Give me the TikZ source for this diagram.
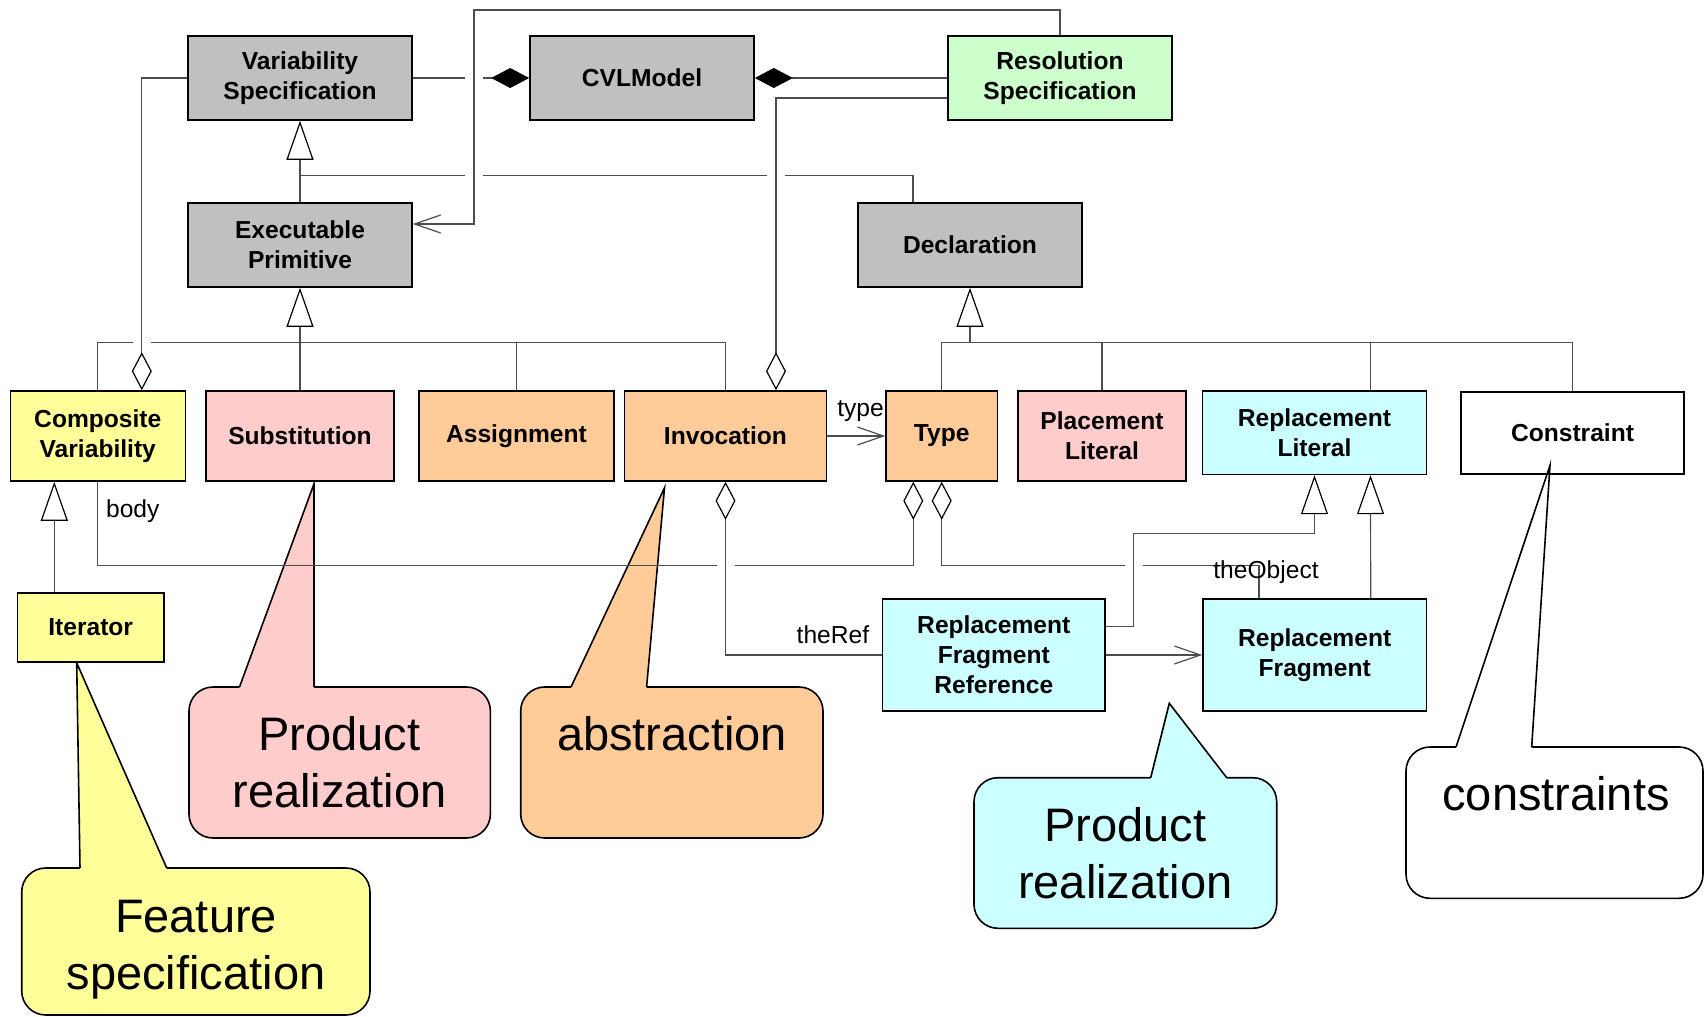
\documentclass[tikz,border=0pt]{standalone}
\usepackage{fontspec}
\setmainfont{Liberation Sans}
\usetikzlibrary{arrows.meta, positioning, calc}

\definecolor{cvlgray}{HTML}{C0C0C0}
\definecolor{cvlyellow}{HTML}{FFFF99}
\definecolor{cvlpink}{HTML}{FFCCCC}
\definecolor{cvlorange}{HTML}{FFCC99}
\definecolor{cvlcyan}{HTML}{CCFFFF}
\definecolor{cvlgreen}{HTML}{CCFFCC}
\definecolor{wire}{HTML}{4D4D4D}

\pgfdeclarelayer{back}
\pgfdeclarelayer{mid}
\pgfsetlayers{back,mid,main}

\begin{document}
\begin{tikzpicture}[
    x=0.5pt, y=-0.5pt,
    cls/.style={rectangle, draw=black, line width=0.8pt, inner sep=0pt, align=center, font=\fontsize{12.3}{15}\selectfont\bfseries},
    wide/.style={minimum width=112pt, minimum height=42pt},
    row/.style={minimum height=45pt},
    conn/.style={draw=wire, line width=0.6pt},
    gen/.style={conn, -{Triangle[length=19.5pt, width=13.5pt, fill=white, color=black]}},
    comp/.style={conn, -{Diamond[length=19pt, width=10pt, color=black]}},
    aggr/.style={conn, -{Diamond[length=19pt, width=10pt, color=black, fill=white]}},
    nav/.style={conn, -{Straight Barb[length=13pt, width=9pt]}},
    hop/.style={preaction={draw=white, line width=9pt, arrows=-}},
    lbl/.style={inner sep=0pt, font=\fontsize{12.3}{15}\selectfont},
    note/.style={draw=black, line width=0.8pt},
    notetext/.style={align=center, inner sep=0pt, font=\fontsize{23.5}{28.5}\selectfont}
]
    \useasboundingbox (0,0) rectangle (1705,1017);

    % Top metaclasses
    \node (varspec) [cls, wide, fill=cvlgray] at (300,78) {Variability\\Specification};
    \node (cvlmodel) [cls, wide, fill=cvlgray] at (642,78) {CVLModel};
    \node (resspec) [cls, wide, fill=cvlgreen] at (1060,78) {Resolution\\Specification};
    \node (execprim) [cls, wide, fill=cvlgray] at (300,245) {Executable\\Primitive};
    \node (decl) [cls, wide, fill=cvlgray] at (970,245) {Declaration};

    % Primitives and declarations
    \node (compvar) [cls, row, minimum width=87.5pt, fill=cvlyellow] at (97.8,436) {Composite\\Variability};
    \node (subst) [cls, row, minimum width=94pt, fill=cvlpink] at (300,436) {Substitution};
    \node (assign) [cls, row, minimum width=97.5pt, fill=cvlorange] at (516.5,436) {Assignment};
    \node (invoc) [cls, row, minimum width=101pt, fill=cvlorange] at (725.5,436) {Invocation};
    \node (type) [cls, row, minimum width=55.7pt, fill=cvlorange] at (941.7,436) {Type};
    \node (placelit) [cls, row, minimum width=84pt, fill=cvlpink] at (1102,436) {Placement\\Literal};
    \node (repllit) [cls, minimum width=112pt, minimum height=41.7pt, fill=cvlcyan] at (1314.5,432.7) {Replacement\\Literal};
    \node (constraint) [cls, minimum width=111.5pt, minimum height=41pt] at (1572.5,433) {Constraint};
    \node (iterator) [cls, minimum width=73.3pt, minimum height=34.5pt, fill=cvlyellow] at (90.7,627.5) {Iterator};
    \node (rfr) [cls, minimum width=111.2pt, minimum height=56pt, fill=cvlcyan] at (993.8,655) {Replacement\\Fragment\\Reference};
    \node (rf) [cls, minimum width=111.7pt, minimum height=56pt, fill=cvlcyan] at (1314.7,655) {Replacement\\Fragment};

    % Role names
    \node (typelbl) [lbl, anchor=base east] at ([xshift=-0.5pt, yshift=10pt]type.west) {type};
    \node (bodylbl) [lbl, anchor=base west] at ([xshift=3.95pt, yshift=-17.85pt]compvar.south) {body};
    \node (reflbl) [lbl, anchor=base east] at ([xshift=-6.1pt, yshift=5.85pt]rfr.west) {theRef};
    \node (objlbl) [lbl, anchor=base west] at ([xshift=-50.85pt, yshift=9.75pt]rf.north) {theObject};

    % Callout texts
    \node (feattxt) [notetext] at (196,950) {Feature\\specification};
    \node (prodtxt) [notetext] at (339.5,762.5) {Product\\realization};
    \node (abstxt) [notetext, anchor=base] at (672,750) {abstraction};
    \node (repltxt) [notetext] at (1125.3,853) {Product\\realization};
    \node (constxt) [notetext, anchor=base] at (1556,810) {constraints};

    % Callout tips
    \coordinate (feattip) at ([xshift=-7pt]iterator.south);
    \coordinate (prodtip) at ([xshift=7pt, yshift=-1pt]subst.south);
    \coordinate (abstip) at ([xshift=-30.5pt, yshift=-3pt]invoc.south);
    \coordinate (repltip) at (1169.3,703.3);
    \coordinate (constip) at ([xshift=-11.25pt, yshift=4.75pt]constraint.south);

    \begin{pgfonlayer}{back}
    % Callouts
    \draw[note, fill=cvlyellow, rounded corners=12pt] (21.7,868) rectangle (370,1015);
    \fill[cvlyellow] (80,872) -- (80,868) -- (feattip) -- (166.7,868) -- (166.7,872) -- cycle;
    \draw[note] (80,868) -- (feattip) -- (166.7,868);

    \draw[note, fill=cvlpink, rounded corners=12pt] (189,687) rectangle (490.4,838);
    \fill[cvlpink] (239.5,691) -- (239.5,687) -- (prodtip) -- (314,687) -- (314,691) -- cycle;
    \draw[note] (239.5,687) -- (prodtip) -- (314,687);

    \draw[note, fill=cvlorange, rounded corners=12pt] (520.7,687) rectangle (823,838);
    \fill[cvlorange] (571,691) -- (571,687) -- (abstip) -- (646.6,687) -- (646.6,691) -- cycle;
    \draw[note] (571,687) -- (abstip) -- (646.6,687);

    \draw[note, fill=cvlcyan, rounded corners=12pt] (974,777.7) rectangle (1276.7,928.3);
    \fill[cvlcyan] (1150.7,781.7) -- (1150.7,777.7) -- (repltip) -- (1226.7,777.7) -- (1226.7,781.7) -- cycle;
    \draw[note] (1150.7,777.7) -- (repltip) -- (1226.7,777.7);

    \draw[note, fill=white, rounded corners=12pt] (1406,747) rectangle (1703,898.3);
    \fill[white] (1456,751) -- (1456,747) -- (constip) -- (1531.7,747) -- (1531.7,751) -- cycle;
    \draw[note] (1456,747) -- (constip) -- (1531.7,747);
    \end{pgfonlayer}

    \begin{pgfonlayer}{mid}
    % Compositions into CVLModel
    \draw[comp] (varspec) -- (cvlmodel);
    \draw[comp] (resspec) -- (cvlmodel);

    % Generalisations
    \draw[gen] (execprim) -- (varspec);
    \draw[conn] ([xshift=-28.5pt]decl.north) |- ([yshift=13.5pt]execprim.north);

    \coordinate (epbar) at ([yshift=-27.5pt]execprim.south);
    \draw[gen] (epbar) -- (execprim.south);
    \draw[conn] (compvar.north) |- (epbar) -| (invoc.north);
    \foreach \n in {subst, assign}
        \draw[conn] (\n.north) -- (\n.north |- epbar);

    \coordinate (dcbar) at ([yshift=-27.5pt]decl.south);
    \draw[gen] (dcbar) -- (decl.south);
    \draw[conn] (type.north) |- (dcbar) -| (constraint.north);
    \draw[conn] (placelit.north) -- (placelit.north |- dcbar);
    \draw[conn] ([xshift=28pt]repllit.north) -- ([xshift=28pt]repllit.north |- dcbar);

    \draw[gen] ([xshift=-18.2pt]iterator.north) -- ([xshift=-18.2pt]iterator.north |- compvar.south);
    \draw[gen] ([xshift=28pt]rf.north) -- ([xshift=28pt]repllit.south);

    % Associations
    \draw[nav] (invoc) -- (type);
    \draw[nav] (rfr) -- (rf);
    \draw[aggr] (compvar.south) |- ([xshift=-14.2pt, yshift=-42pt]type.south) -- ([xshift=-14.2pt]type.south);
    \draw[aggr] ([xshift=-27.85pt]rf.north) |- ([yshift=-42pt]type.south) -- (type.south);

    % Crossing lines (with gaps)
    \coordinate (topbend) at (474,10);
    \draw[nav, hop] (resspec.north) |- (topbend) |- ([yshift=10.5pt]execprim.east);
    \draw[aggr, hop] ([yshift=-10pt]resspec.west) -| ([xshift=25.25pt]invoc.north);
    \draw[aggr, hop] (varspec.west) -| ([xshift=22pt]compvar.north);
    \draw[aggr, hop] (rfr.west) -| (invoc.south);
    \draw[gen, hop] ([yshift=14.15pt]rfr.east) -- ++(28,0) |- ([yshift=-29pt]repllit.south) -- (repllit.south);
    \end{pgfonlayer}

\end{tikzpicture}
\end{document}
